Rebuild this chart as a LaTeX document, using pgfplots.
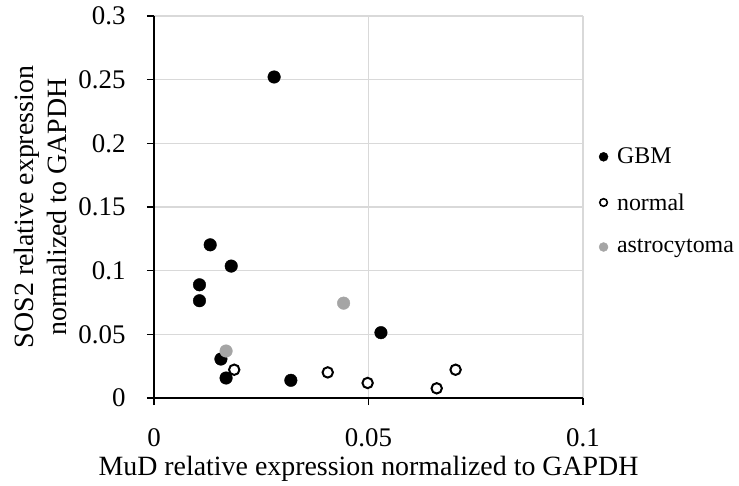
\documentclass[border=0pt]{standalone}
\usepackage{pgfplots}
\pgfplotsset{compat=1.18}
\usepackage{fontspec}
\setmainfont{Liberation Serif}
\definecolor{gridgray}{HTML}{D9D9D9}
\definecolor{astro}{HTML}{A5A5A5}
\begin{document}
\begin{tikzpicture}
\path[use as bounding box] (0,0) rectangle (739bp,486bp);
\begin{axis}[
  at={(154bp,88bp)}, anchor=south west,
  scale only axis, width=429bp, height=382bp,
  xmin=0, xmax=0.1, ymin=0, ymax=0.3,
  xtick={0,0.05,0.1}, ytick={0,0.05,0.1,0.15,0.2,0.25,0.3},
  xticklabels={0,0.05,0.1},
  yticklabels={0,0.05,0.1,0.15,0.2,0.25,0.3},
  axis x line*=bottom, axis y line*=left,
  axis line style={line width=1.6bp, -},
  grid=major, major grid style={gridgray, line width=1.2bp},
  tick align=outside, major tick length=7bp,
  tick style={black, line width=1.6bp},
  tick label style={font=\fontsize{27}{32}\selectfont},
  xticklabel style={anchor=north, yshift=-20bp},
  yticklabel style={xshift=-18bp},
  label style={font=\fontsize{28}{33}\selectfont},
  xlabel={MuD relative expression normalized to GAPDH},
  ylabel={SOS2 relative expression\\normalized to GAPDH},
  ylabel style={align=center, at={(axis description cs:-0.265,0.5)}, anchor=center},
  xlabel style={at={(axis description cs:0.5,0)}, anchor=center, yshift=-71bp},
  legend style={at={(1.03,0.665)}, anchor=north west, draw=none, fill=none,
    font=\fontsize{24}{28}\selectfont, row sep=24bp,
    /tikz/every odd column/.append style={column sep=7bp}},
  legend cell align=left,
  clip=false,
]
\addplot[only marks, mark=*, mark size=6.3bp, draw=black, fill=black,
  legend image post style={mark size=4.5bp}] coordinates {
(0.0280,0.2521) (0.0131,0.1203) (0.0180,0.1036) (0.0106,0.0889) (0.0106,0.0764)
(0.0529,0.0513) (0.0156,0.0306) (0.0168,0.0157) (0.0319,0.0139)
};
\addlegendentry{GBM}
\addplot[only marks, mark=*, mark size=5.2bp, draw=black, fill=white, line width=2bp,
  legend image post style={mark size=3.8bp, line width=1.6bp}] coordinates {
(0.0187,0.0222) (0.0405,0.0201) (0.0498,0.0118) (0.0659,0.0076) (0.0703,0.0222)
};
\addlegendentry{normal}
\addplot[only marks, mark=*, mark size=6.3bp, draw=astro, fill=astro,
  legend image post style={mark size=4.5bp}] coordinates {
(0.0442,0.0745) (0.0168,0.0369)
};
\addlegendentry{astrocytoma}
\end{axis}
\end{tikzpicture}
\end{document}
